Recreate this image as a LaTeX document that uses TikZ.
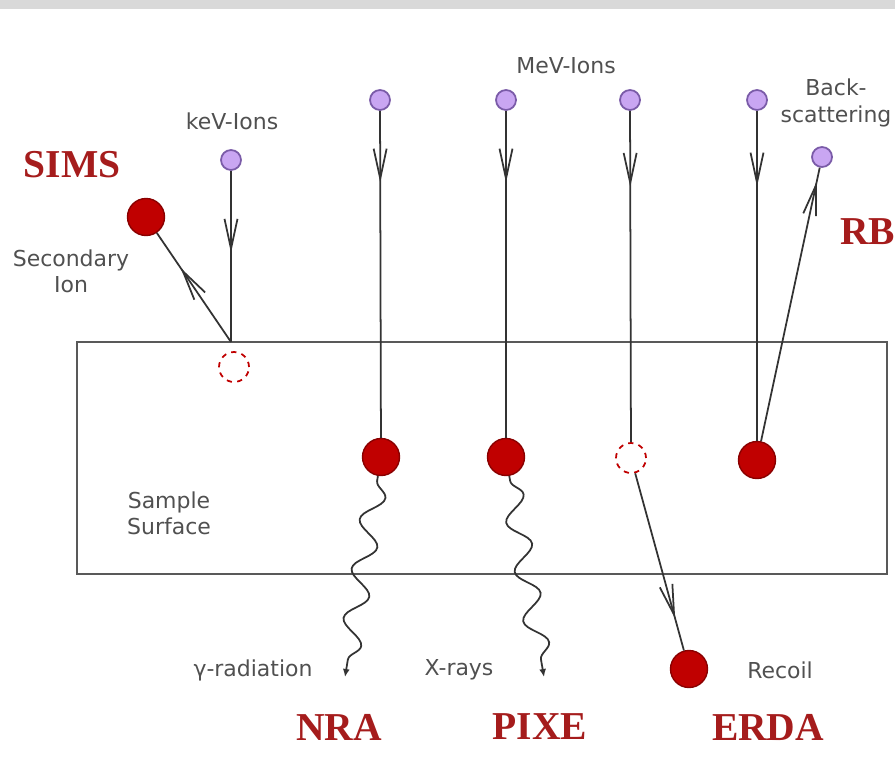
\documentclass[tikz,border=0pt]{standalone}
\usepackage{fontspec}
\setsansfont{DejaVu Sans}
\newfontfamily\headfont{Liberation Serif}
\usetikzlibrary{arrows.meta, decorations.markings, decorations.pathmorphing}

\definecolor{ionfill}{HTML}{C9A6F2}
\definecolor{iondraw}{HTML}{7A5BA8}
\definecolor{hitfill}{HTML}{C00000}
\definecolor{hitdraw}{HTML}{8A0000}
\definecolor{methodred}{HTML}{A51C1C}
\definecolor{labelgray}{HTML}{505050}
\definecolor{linegray}{HTML}{333333}

\begin{document}
\begin{tikzpicture}[x=0.02cm, y=-0.02cm,
  ion/.style={circle, draw=iondraw, fill=ionfill, line width=1pt, minimum size=0.4cm, inner sep=0pt},
  hit/.style={circle, draw=hitdraw, fill=hitfill, line width=0.8pt, minimum size=0.74cm, inner sep=0pt},
  hole/.style={circle, draw=hitfill, dash pattern=on 3pt off 3pt, line width=1pt, minimum size=0.6cm, inner sep=0pt},
  beam/.style={color=linegray, line width=1pt, postaction={decorate},
    decoration={markings, mark=at position #1 with {\arrow{Straight Barb[length=6mm, width=2.6mm]}}}},
  wave/.style={color=linegray, line width=1pt, decorate,
    decoration={snake, segment length=1cm, amplitude=0.22cm, pre length=0.1cm, post length=0.15cm},
    -{Latex[length=1.6mm, width=1.4mm]}},
  lbl/.style={font=\sffamily\fontsize{12.5}{15}\selectfont, text=labelgray, align=center},
  method/.style={font=\headfont\bfseries\fontsize{22.5}{24}\selectfont, text=methodred}
]
  \useasboundingbox (0,0) rectangle (895,764);
  \clip (0,0) rectangle (895,764);
  \fill[black!15] (0,0) rectangle (895,9);

  \draw[draw=black!65, line width=1pt] (77,342) rectangle (887,574);

  \node[ion] (kev) at (231,160) {};
  \node[ion] (m1) at (380,100) {};
  \node[ion] (m2) at (506,100) {};
  \node[ion] (m3) at (630,100) {};
  \node[ion] (m4) at (757,100) {};
  \node[ion] (bs) at (822,157) {};

  \coordinate (s1) at (231,342);
  \node[hole] (h1) at (234,367) {};
  \node[hit] (sec) at (146,217) {};

  \node[hit] (n1) at (381,457) {};
  \node[hit] (n2) at (506,457) {};
  \node[hole] (n3) at (631,458) {};
  \node[hit] (n4) at (757,460) {};
  \node[hit] (rec) at (689,669) {};

  \coordinate (g1) at (345,677);
  \coordinate (g2) at (544,677);

  \draw[beam=0.48] (kev) -- (s1);
  \draw[beam=0.68] (s1) -- (sec);
  \draw[beam=0.22] (m1) -- (n1);
  \draw[beam=0.22] (m2) -- (n2);
  \draw[beam=0.23] (m3) -- (n3);
  \draw[beam=0.23] (m4) -- (n4);
  \draw[beam=0.95] (n4) -- (bs);
  \draw[beam=0.82] (n3) -- (rec);
  \draw[wave] (n1) -- (g1);
  \draw[wave] (n2) -- (g2);

  \node[lbl] (keylbl) at (232,121) {keV-Ions};
  \node[lbl] (mevlbl) at (566,66) {MeV-Ions};
  \node[lbl] (bslbl) at (836,103) {Back-\\scattering};
  \node[lbl] (seclbl) at (71,271) {Secondary\\Ion};
  \node[lbl] (samplbl) at (169,513) {Sample\\Surface};
  \node[lbl] (gamlbl) at (253,670) {γ-radiation};
  \node[lbl] (xlbl) at (459,670) {X-rays};
  \node[lbl] (reclbl) at (780,670) {Recoil};

  \node[method] (sims) at (72,165) {SIMS};
  \node[method, anchor=west] (rbs) at (834,232) {RBS};
  \node[method] (nra) at (339,727) {NRA};
  \node[method] (pixe) at (540,727) {PIXE};
  \node[method] (erda) at (768,727) {ERDA};
\end{tikzpicture}
\end{document}
